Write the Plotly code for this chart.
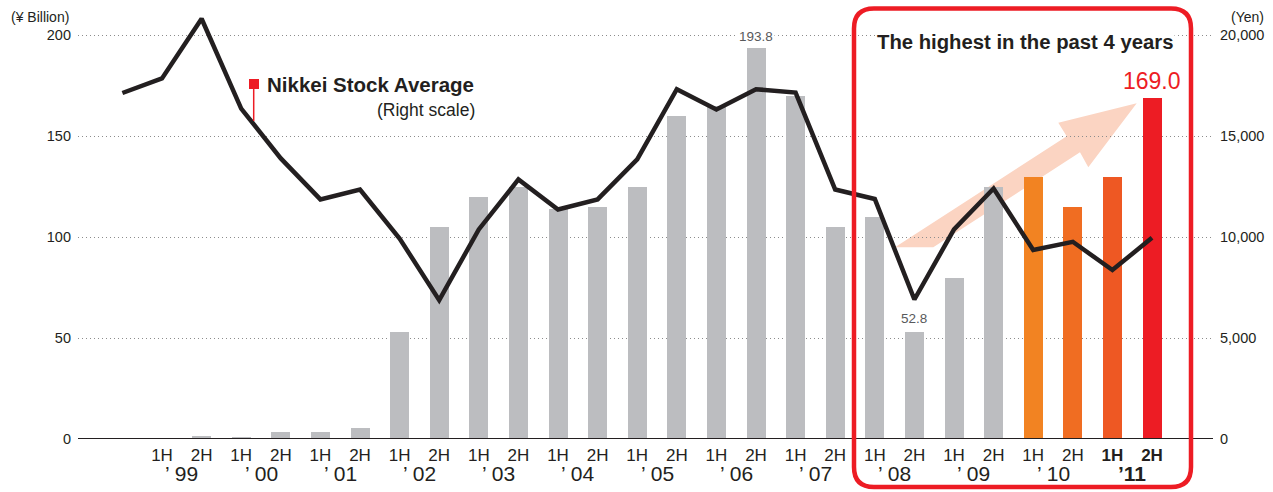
import plotly.graph_objects as go

# ---------------- data ----------------
half_labels = ["1H", "2H"] * 12 + ["<b>1H</b>", "<b>2H</b>"]
year_labels = ["’ 99", "’ 00", "’ 01", "’ 02", "’ 03", "’ 04", "’ 05",
               "’ 06", "’ 07", "’ 08", "’ 09", "’ 10", "<b>’11</b>"]
sales = [0.3, 1.5, 1.0, 3.5, 3.5, 5.5, 53, 105, 120, 125, 114, 115, 125,
         160, 165, 193.8, 170, 105, 110, 52.8, 80, 125, 130, 115, 130, 169.0]
# Nikkei Stock Average (Yen), one point before first half (2H '98) through 2H '11
nikkei = [17140, 17860, 20820, 16370, 13900, 11870, 12360, 9930, 6880, 10380,
          12860, 11370, 11870, 13850, 17330, 16320, 17330, 17160, 12360, 11890,
          6910, 10380, 12410, 9360, 9770, 8370, 9970]
left_ticks = [0, 50, 100, 150, 200]
right_ticks = [0, 5000, 10000, 15000, 20000]

GRAY = "#bcbdc0"
bar_colors = [GRAY] * 22 + ["#f28322", "#f06d22", "#ee5823", "#ed1c24"]
RED = "#ed1c24"
TXT = "#231f20"
SANS = "Liberation Sans, Arial, Helvetica, sans-serif"
NARROW = "Liberation Sans Narrow, Arial Narrow, Liberation Sans, Arial, sans-serif"

# ---------------- geometry ----------------
W, H = 1273, 492
L, R, T, B = 78, 60, 5, 53
plotW, plotH = W - L - R, H - T - B
STEP, FIRST = 39.6, 162.0          # pixel spacing of halves, centre of first bar
X0 = (L - FIRST) / STEP
X1 = (W - R - FIRST) / STEP
YMAX = 215.0
Y2MAX = 21500.0


def dx(px):
    return X0 + (px - L) / plotW * (X1 - X0)


def dy(py):
    return (H - B - py) / plotH * YMAX


def pxp(px):
    return (px - L) / plotW


def pyp(py):
    return (H - B - py) / plotH


xb = list(range(len(sales)))
xl = list(range(-1, len(nikkei) - 1))

fig = go.Figure()
fig.add_bar(x=xb, y=sales, marker=dict(color=bar_colors, line=dict(width=0)),
            width=0.48, yaxis="y", hoverinfo="skip")
fig.add_scatter(x=xl, y=nikkei, mode="lines", yaxis="y2",
                line=dict(color=TXT, width=4.5), hoverinfo="skip")

shapes = []
# baseline
shapes.append(dict(type="line", xref="paper", yref="y", x0=0, x1=1, y0=0, y1=0,
                   line=dict(color=TXT, width=2.2), layer="above"))
# trend arrow
arrow_px = [(895, 247.3), (1066.7, 136.3), (1058.3, 122.7), (1136.7, 103.3),
            (1088.3, 167.3), (1080, 152.3), (933.3, 247.3)]
path = "M " + " L ".join(f"{dx(a):.4f},{dy(b):.4f}" for a, b in arrow_px) + " Z"
shapes.append(dict(type="path", xref="x", yref="y", path=path,
                   fillcolor="#fbd4c2", line=dict(width=0), layer="below"))
# legend marker + leader line
shapes.append(dict(type="line", xref="x", yref="y", x0=dx(253.7), x1=dx(253.7),
                   y0=dy(88), y1=dy(121), line=dict(color=RED, width=1.5)))
shapes.append(dict(type="rect", xref="x", yref="y", x0=dx(249), x1=dx(259),
                   y0=dy(79), y1=dy(89), fillcolor=RED, line=dict(width=0)))
# rounded red box
bx0, bx1, by0, by1, rad = 854, 1191, 8.5, 487, 20
rx, ry = rad / plotW, rad / plotH
a0, a1, b0, b1 = pxp(bx0), pxp(bx1), pyp(by1), pyp(by0)
box = (f"M {a0+rx},{b1} L {a1-rx},{b1} Q {a1},{b1} {a1},{b1-ry} "
       f"L {a1},{b0+ry} Q {a1},{b0} {a1-rx},{b0} L {a0+rx},{b0} "
       f"Q {a0},{b0} {a0},{b0+ry} L {a0},{b1-ry} Q {a0},{b1} {a0+rx},{b1} Z")
shapes.append(dict(type="path", xref="paper", yref="paper", path=box,
                   line=dict(color=RED, width=4.5), layer="above"))

ann = []
# year labels
for k, lab in enumerate(year_labels):
    ann.append(dict(x=2 * k + 0.5, y=pyp(474), xref="x", yref="paper", text=lab,
                    showarrow=False, yanchor="middle", xanchor="center",
                    font=dict(family=NARROW, size=21, color=TXT)))
# axis unit titles
ann.append(dict(x=pxp(71), y=pyp(17), xref="paper", yref="paper", text="(¥ Billion)",
                showarrow=False, xanchor="right", yanchor="middle",
                font=dict(family=SANS, size=14, color=TXT)))
ann.append(dict(x=pxp(1247), y=pyp(17), xref="paper", yref="paper", text="(Yen)",
                showarrow=False, xanchor="center", yanchor="middle",
                font=dict(family=SANS, size=14, color=TXT)))
# legend text
ann.append(dict(x=dx(265), y=dy(84), xref="x", yref="y",
                text="<b>Nikkei Stock Average</b>", showarrow=False,
                xanchor="left", yanchor="middle",
                font=dict(family=SANS, size=20.5, color=TXT)))
ann.append(dict(x=dx(477), y=dy(110), xref="x", yref="y", text="(Right scale)",
                showarrow=False, xanchor="right", yanchor="middle",
                font=dict(family=SANS, size=17.5, color=TXT)))
# box title
ann.append(dict(x=dx(1025), y=dy(42), xref="x", yref="y",
                text="<b>The highest in the past 4 years</b>", showarrow=False,
                xanchor="center", yanchor="middle", bgcolor="white",
                font=dict(family=SANS, size=20.3, color=TXT)))
# value labels
ann.append(dict(x=15, y=dy(36), xref="x", yref="y", text="193.8", showarrow=False,
                xanchor="center", yanchor="middle", bgcolor="white",
                font=dict(family=SANS, size=13.5, color="#58595b")))
ann.append(dict(x=19, y=dy(318), xref="x", yref="y", text="52.8", showarrow=False,
                xanchor="center", yanchor="middle",
                font=dict(family=SANS, size=13.5, color="#58595b")))
ann.append(dict(x=25, y=dy(81), xref="x", yref="y", text="169.0", showarrow=False,
                xanchor="center", yanchor="middle",
                font=dict(family=NARROW, size=23, color=RED)))

fig.update_layout(
    width=W, height=H, margin=dict(l=L, r=R, t=T, b=B, autoexpand=False),
    paper_bgcolor="white", plot_bgcolor="white", showlegend=False,
    bargap=0, shapes=shapes, annotations=ann,
    xaxis=dict(range=[X0, X1], tickmode="array", tickvals=xb, ticktext=half_labels,
               showgrid=False, zeroline=False, showline=False, ticks="",
               tickfont=dict(family=NARROW, size=17, color=TXT), fixedrange=True,
               ticklabelstandoff=4),
    yaxis=dict(range=[0, YMAX], tickmode="array", tickvals=left_ticks,
               showgrid=True, gridcolor="#8c8c8c", griddash="1px,3px", gridwidth=1,
               zeroline=False, showline=False, ticks="",
               tickfont=dict(family=SANS, size=14.5, color=TXT), ticklabelstandoff=6),
    yaxis2=dict(range=[0, Y2MAX], overlaying="y", side="right", tickmode="array",
                tickvals=right_ticks, tickformat=",", showgrid=False,
                zeroline=False, showline=False, ticks="",
                tickfont=dict(family=SANS, size=14.5, color=TXT), ticklabelstandoff=6),
)

fig.write_html("out.html", config={"displayModeBar": False},
               post_script="document.body.style.margin='0';document.body.style.padding='0';")
